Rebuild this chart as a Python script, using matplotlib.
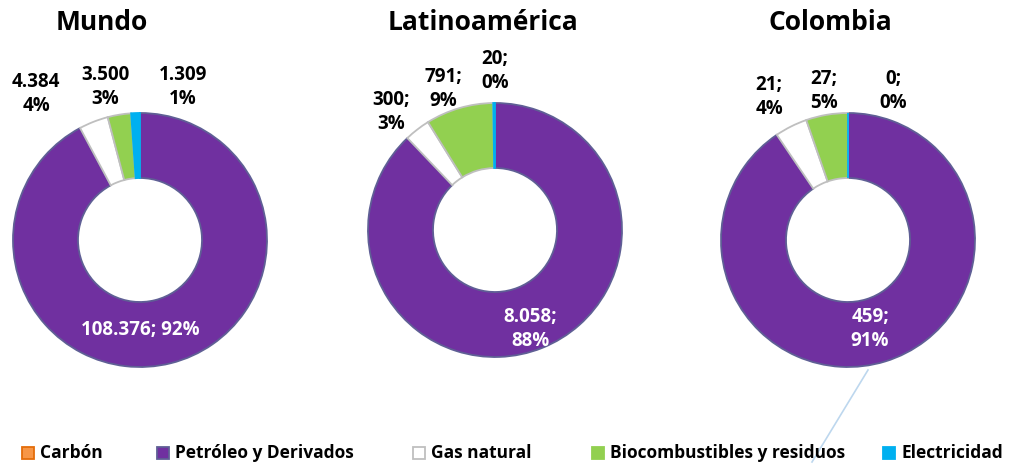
import matplotlib.pyplot as plt
from matplotlib.patches import Rectangle

# datos
categorias = ['Carbón', 'Petróleo y Derivados', 'Gas natural', 'Biocombustibles y residuos', 'Electricidad']
titulos = ['Mundo', 'Latinoamérica', 'Colombia']
mundo = [0, 108376, 4384, 3500, 1309]
latam = [0, 8058, 300, 791, 20]
colombia = [0, 459, 21, 27, 0]
etiquetas = [
    [None, '108.376; 92%', '4.384\n4%', '3.500\n3%', '1.309\n1%'],
    [None, '8.058;\n88%', '300;\n3%', '791;\n9%', '20;\n0%'],
    [None, '459;\n91%', '21;\n4%', '27;\n5%', '0;\n0%'],
]

colores = ['#F79646', '#7030A0', '#FFFFFF', '#92D050', '#00B0F0']
bordes = ['#B65708', '#5F5F95', '#BFBFBF', '#BFBFBF', '#00B0F0']
leg_bordes = ['#E46C0A', '#5F5F95', '#BFBFBF', '#92D050', '#00B0F0']

plt.rcParams['font.family'] = ['Open Sans', 'DejaVu Sans']

W, H = 1021, 466
fig = plt.figure(figsize=(W / 100, H / 100), dpi=100)
ax = fig.add_axes([0, 0, 1, 1])

# posiciones (pixeles)
centros = [(140, 240), (495, 230), (848, 240)]
radio = 127
pos_titulos = [(102, 22), (483, 22), (830, 22)]
pos_etiq = [
    [None, (140, 330), (36, 94), (105, 87), (183, 87)],
    [None, (530, 329), (391, 112), (443, 89), (495, 71)],
    [None, (870, 329), (769, 97), (824, 91), (893, 91)],
]
leg_x = [22, 157, 413, 592, 883]
leg_y = 453

for i, vals in enumerate([mundo, latam, colombia]):
    cx, cy = centros[i]
    wedges, _ = ax.pie(vals, colors=colores, startangle=90, counterclock=False,
                       center=(cx, H - cy), radius=radio,
                       wedgeprops=dict(width=65, linewidth=1.3))
    for w, b in zip(wedges, bordes):
        w.set_edgecolor(b)
    tx, ty = pos_titulos[i]
    ax.text(tx, H - ty, titulos[i], ha='center', va='center', fontsize=19, fontweight='bold')
    for j, lab in enumerate(etiquetas[i]):
        if lab is None:
            continue
        px, py = pos_etiq[i][j]
        ax.text(px, H - py, lab, ha='center', va='center', fontsize=13.5,
                fontweight='bold', color='white' if j == 1 else 'black', linespacing=1.3)

# linea guia
ax.plot([868, 812], [H - 370, H - 462], color='#BDD7EE', lw=1.2)

# leyenda
for k, cat in enumerate(categorias):
    ax.add_patch(Rectangle((leg_x[k], H - leg_y - 6), 12, 12, facecolor=colores[k],
                           edgecolor=leg_bordes[k], linewidth=1.3))
    ax.text(leg_x[k] + 18, H - leg_y, cat, ha='left', va='center', fontsize=12.5, fontweight='bold')

ax.set_xlim(0, W)
ax.set_ylim(0, H)
ax.set_aspect('equal')
ax.axis('off')

fig.savefig('out.png', dpi=100)
